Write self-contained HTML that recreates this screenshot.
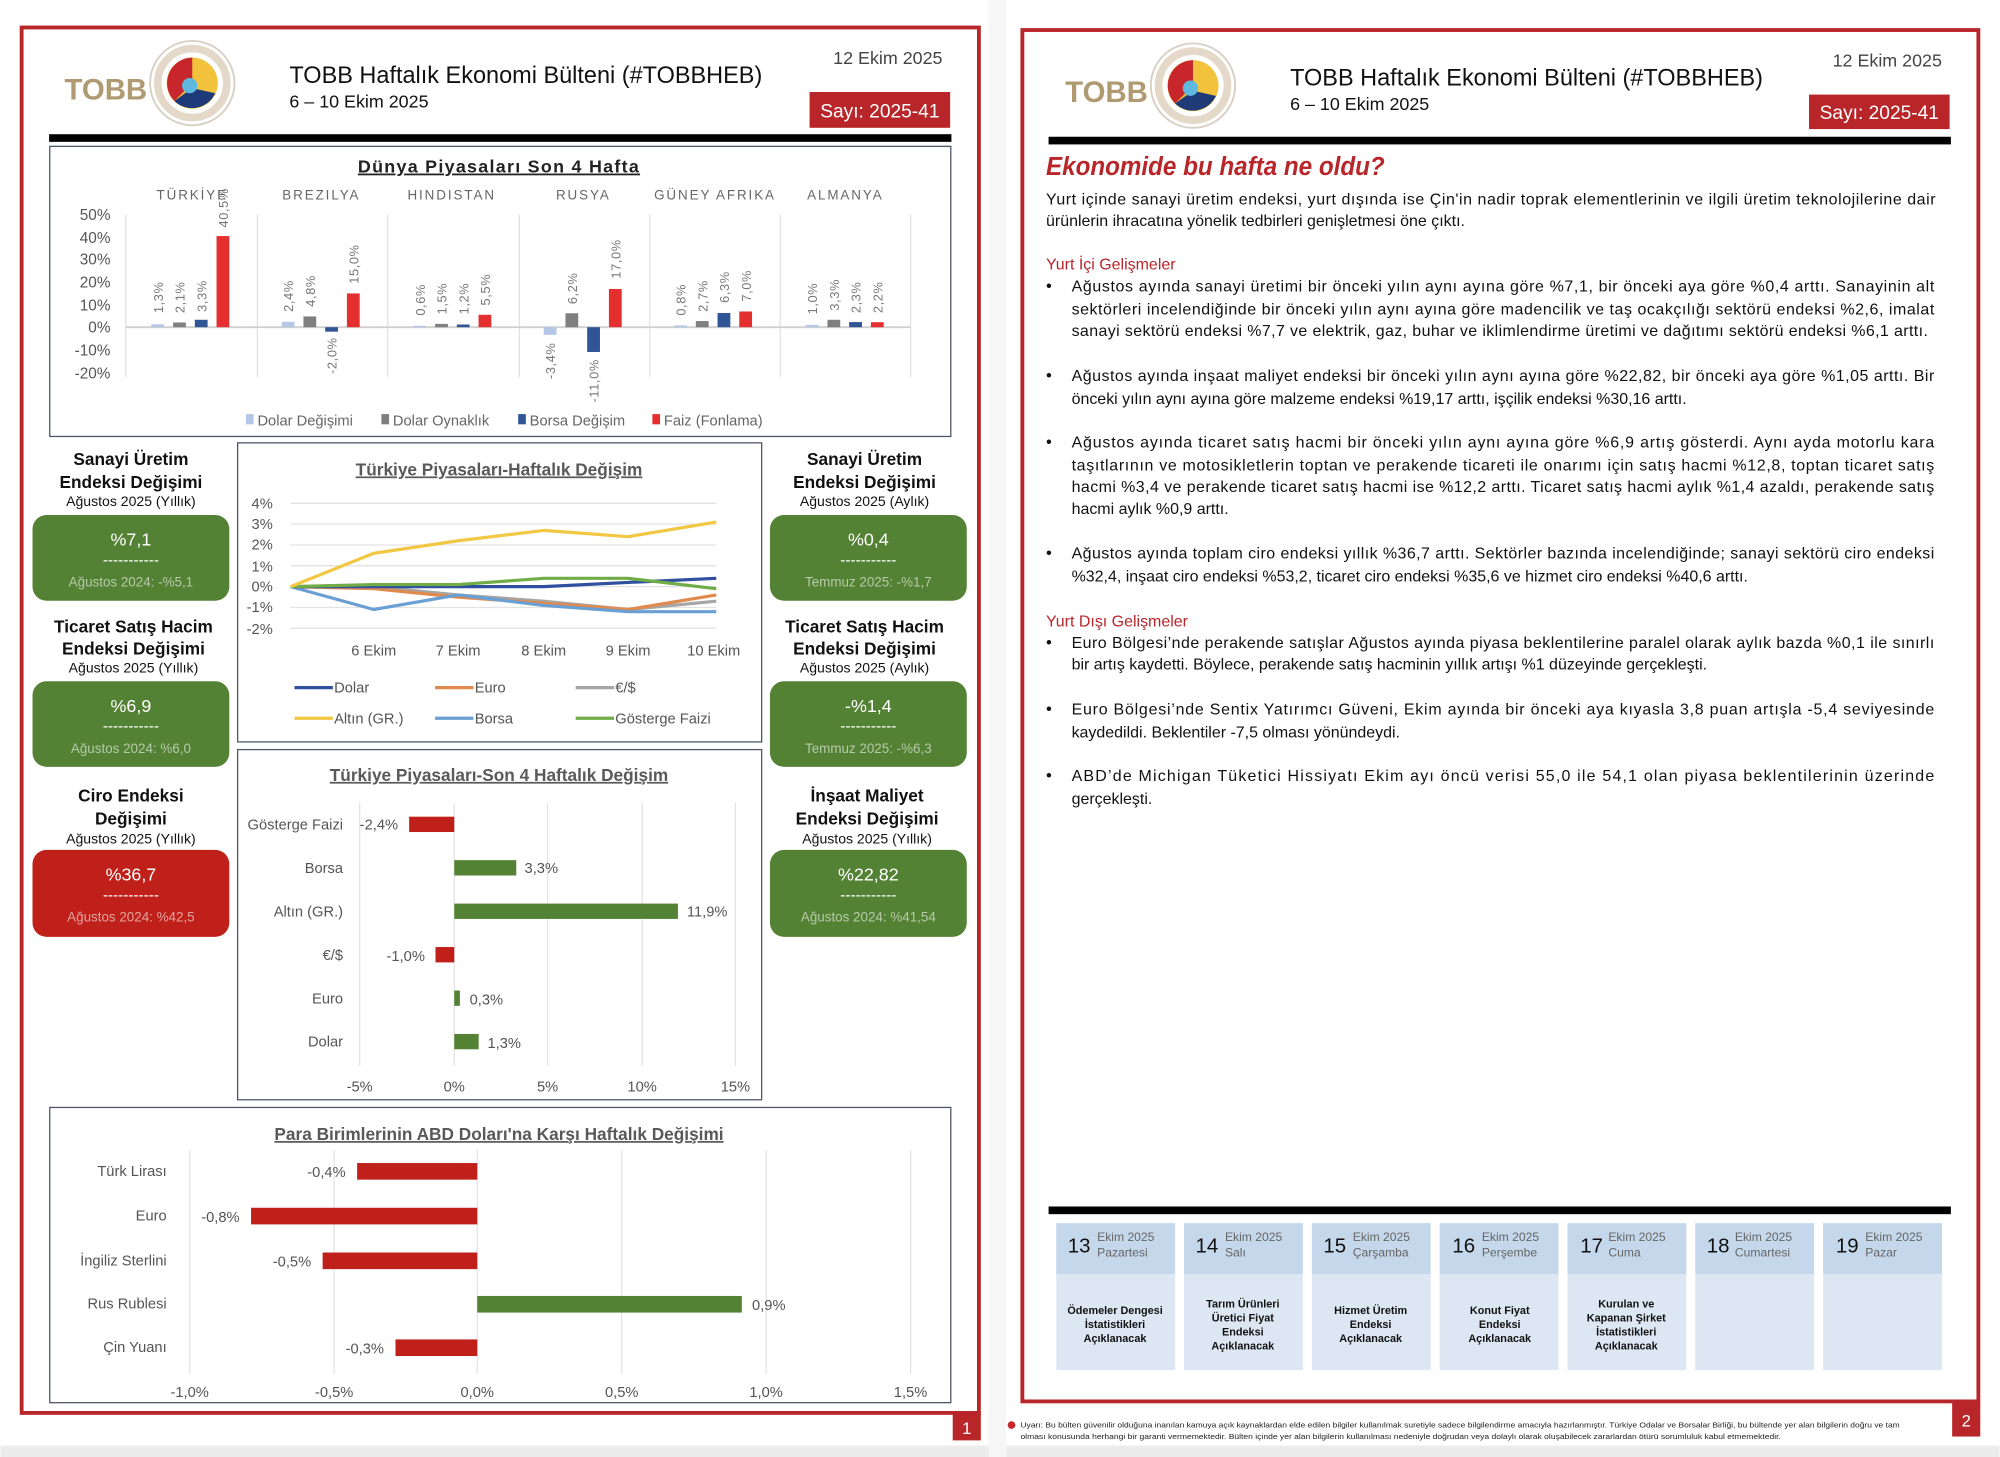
<!DOCTYPE html>
<html><head><meta charset="utf-8"><style>
html,body{margin:0;padding:0;background:#fff;width:2000px;height:1457px;overflow:hidden}
svg{display:block}
text{font-family:"Liberation Sans","DejaVu Sans",sans-serif}
</style></head><body>
<svg width="2000" height="1457" viewBox="0 0 1564 1140" xmlns="http://www.w3.org/2000/svg">
<rect x="0" y="0" width="1564" height="1140" fill="#fff"/>
<rect x="0" y="1131" width="1564" height="9" fill="#ececec"/>
<rect x="773" y="0" width="14" height="1140" fill="#f6f6f6"/>

<!-- PAGE 1 -->
<rect x="16.5" y="21.5" width="749" height="1084" fill="#fff" stroke="#b8262a" stroke-width="3"/>
<rect x="745" y="1105" width="22" height="22" fill="#b8262a"/><text x="756" y="1122" font-size="13" fill="#fff" text-anchor="middle">1</text>
<text x="50" y="78" font-size="23" font-weight="bold" fill="#b09a72">TOBB</text>
<g transform="translate(150,65)">
<circle r="33" fill="#fff" stroke="#d8d0c4" stroke-width="1.5"/>
<circle r="27" fill="none" stroke="#e4d8c8" stroke-width="6"/>
<circle r="20" fill="#f2c23c"/>
<path d="M0,-20 A20,20 0 0 0 -14,14 L0,0 Z" fill="#c6262c"/>
<path d="M-14,14 A20,20 0 0 0 18,8 L0,4 Z" fill="#1f3a78"/>
<circle cx="-2" cy="2" r="6" fill="#5fb8e0"/>
</g>
<text x="226" y="65" font-size="19" fill="#111" textLength="370" lengthAdjust="spacingAndGlyphs">TOBB Haftalık Ekonomi Bülteni (#TOBBHEB)</text>
<text x="226" y="84" font-size="14" fill="#111">6 – 10 Ekim 2025</text>
<text x="737" y="50" font-size="14" fill="#444" text-anchor="end">12 Ekim 2025</text>
<rect x="633" y="72" width="110" height="28" fill="#b8262a"/>
<text x="688" y="92" font-size="15" fill="#fff" text-anchor="middle">Sayı: 2025-41</text>
<rect x="38" y="105" width="706" height="6" fill="#000"/>

<!-- Chart 1 -->
<rect x="38.5" y="114.5" width="705" height="227" fill="#fff" stroke="#4a5568" stroke-width="1"/>
<text x="390" y="135" font-size="14" font-weight="bold" fill="#222" text-anchor="middle" letter-spacing="1" text-decoration="underline">Dünya Piyasaları Son 4 Hafta</text>
<g font-size="10.5" fill="#666" text-anchor="middle" letter-spacing="1.5">
<text x="150" y="156">TÜRKİYE</text><text x="251" y="156">BREZILYA</text><text x="353" y="156">HINDISTAN</text><text x="456" y="156">RUSYA</text><text x="559" y="156">GÜNEY AFRIKA</text><text x="661" y="156">ALMANYA</text>
</g>
<g font-size="12" fill="#555" text-anchor="end">
<text x="86" y="172">50%</text><text x="86" y="190">40%</text><text x="86" y="207">30%</text><text x="86" y="225">20%</text><text x="86" y="243">10%</text><text x="86" y="260">0%</text><text x="86" y="278">-10%</text><text x="86" y="296">-20%</text>
</g>
<g stroke="#e0e0e0" stroke-width="1">
<line x1="98" y1="168" x2="98" y2="295"/><line x1="201" y1="168" x2="201" y2="295"/><line x1="303" y1="168" x2="303" y2="295"/><line x1="406" y1="168" x2="406" y2="295"/><line x1="508" y1="168" x2="508" y2="295"/><line x1="610" y1="168" x2="610" y2="295"/><line x1="712" y1="168" x2="712" y2="295"/>
</g>
<line x1="98" y1="256" x2="712" y2="256" stroke="#d0d0d0" stroke-width="1.5"/>
<g>
<rect x="118" y="253.7" width="10" height="2.3" fill="#b4c7e7"/><rect x="135" y="252.3" width="10" height="3.7" fill="#7f7f7f"/><rect x="152" y="250.2" width="10" height="5.8" fill="#2f5597"/><rect x="169" y="184.7" width="10" height="71.3" fill="#e52f2f"/>
<rect x="220" y="251.8" width="10" height="4.2" fill="#b4c7e7"/><rect x="237" y="247.6" width="10" height="8.4" fill="#7f7f7f"/><rect x="254" y="256" width="10" height="3.5" fill="#2f5597"/><rect x="271" y="229.6" width="10" height="26.4" fill="#e52f2f"/>
<rect x="323" y="254.9" width="10" height="1.1" fill="#b4c7e7"/><rect x="340" y="253.4" width="10" height="2.6" fill="#7f7f7f"/><rect x="357" y="253.9" width="10" height="2.1" fill="#2f5597"/><rect x="374" y="246.3" width="10" height="9.7" fill="#e52f2f"/>
<rect x="425" y="256" width="10" height="6" fill="#b4c7e7"/><rect x="442" y="245.1" width="10" height="10.9" fill="#7f7f7f"/><rect x="459" y="256" width="10" height="19.4" fill="#2f5597"/><rect x="476" y="226.1" width="10" height="29.9" fill="#e52f2f"/>
<rect x="527" y="254.6" width="10" height="1.4" fill="#b4c7e7"/><rect x="544" y="251.2" width="10" height="4.8" fill="#7f7f7f"/><rect x="561" y="244.9" width="10" height="11.1" fill="#2f5597"/><rect x="578" y="243.7" width="10" height="12.3" fill="#e52f2f"/>
<rect x="630" y="254.2" width="10" height="1.8" fill="#b4c7e7"/><rect x="647" y="250.2" width="10" height="5.8" fill="#7f7f7f"/><rect x="664" y="252" width="10" height="4" fill="#2f5597"/><rect x="681" y="252.1" width="10" height="3.9" fill="#e52f2f"/>
</g>
<g font-size="10" fill="#777" letter-spacing="0.5">
<text transform="translate(127,245) rotate(-90)">1,3%</text>
<text transform="translate(144,245) rotate(-90)">2,1%</text>
<text transform="translate(161,244) rotate(-90)">3,3%</text>
<text transform="translate(178,178) rotate(-90)">40,5%</text>
<text transform="translate(229,244) rotate(-90)">2,4%</text>
<text transform="translate(246,240) rotate(-90)">4,8%</text>
<text transform="translate(263,264) rotate(-90)" text-anchor="end">-2,0%</text>
<text transform="translate(280,222) rotate(-90)">15,0%</text>
<text transform="translate(332,247) rotate(-90)">0,6%</text>
<text transform="translate(349,246) rotate(-90)">1,5%</text>
<text transform="translate(366,246) rotate(-90)">1,2%</text>
<text transform="translate(383,239) rotate(-90)">5,5%</text>
<text transform="translate(434,268) rotate(-90)" text-anchor="end">-3,4%</text>
<text transform="translate(451,238) rotate(-90)">6,2%</text>
<text transform="translate(468,281) rotate(-90)" text-anchor="end">-11,0%</text>
<text transform="translate(485,218) rotate(-90)">17,0%</text>
<text transform="translate(536,247) rotate(-90)">0,8%</text>
<text transform="translate(553,244) rotate(-90)">2,7%</text>
<text transform="translate(570,237) rotate(-90)">6,3%</text>
<text transform="translate(587,236) rotate(-90)">7,0%</text>
<text transform="translate(639,246) rotate(-90)">1,0%</text>
<text transform="translate(656,243) rotate(-90)">3,3%</text>
<text transform="translate(673,245) rotate(-90)">2,3%</text>
<text transform="translate(690,245) rotate(-90)">2,2%</text>
</g>
<g font-size="11.5" fill="#666">
<rect x="192" y="324" width="6" height="8" fill="#b4c7e7"/><text x="201" y="333">Dolar Değişimi</text>
<rect x="298" y="324" width="6" height="8" fill="#7f7f7f"/><text x="307" y="333">Dolar Oynaklık</text>
<rect x="405" y="324" width="6" height="8" fill="#2f5597"/><text x="414" y="333">Borsa Değişim</text>
<rect x="510" y="324" width="6" height="8" fill="#e52f2f"/><text x="519" y="333">Faiz (Fonlama)</text>
</g>

<!-- KPI -->
<g text-anchor="middle" fill="#111">
<text x="102" y="364" font-size="13.5" font-weight="bold">Sanayi Üretim</text>
<text x="102" y="382" font-size="13.5" font-weight="bold">Endeksi Değişimi</text>
<text x="102" y="396" font-size="11">Ağustos 2025 (Yıllık)</text>
<text x="104" y="495" font-size="13.5" font-weight="bold">Ticaret Satış Hacim</text>
<text x="104" y="512" font-size="13.5" font-weight="bold">Endeksi Değişimi</text>
<text x="104" y="526" font-size="11">Ağustos 2025 (Yıllık)</text>
<text x="102" y="627" font-size="13.5" font-weight="bold">Ciro Endeksi</text>
<text x="102" y="645" font-size="13.5" font-weight="bold">Değişimi</text>
<text x="102" y="660" font-size="11">Ağustos 2025 (Yıllık)</text>
<text x="676" y="364" font-size="13.5" font-weight="bold">Sanayi Üretim</text>
<text x="676" y="382" font-size="13.5" font-weight="bold">Endeksi Değişimi</text>
<text x="676" y="396" font-size="11">Ağustos 2025 (Aylık)</text>
<text x="676" y="495" font-size="13.5" font-weight="bold">Ticaret Satış Hacim</text>
<text x="676" y="512" font-size="13.5" font-weight="bold">Endeksi Değişimi</text>
<text x="676" y="526" font-size="11">Ağustos 2025 (Aylık)</text>
<text x="678" y="627" font-size="13.5" font-weight="bold">İnşaat Maliyet</text>
<text x="678" y="645" font-size="13.5" font-weight="bold">Endeksi Değişimi</text>
<text x="678" y="660" font-size="11">Ağustos 2025 (Yıllık)</text>
</g>
<rect x="25" y="403" width="154" height="67" rx="11" fill="#548235"/>
<rect x="25" y="533" width="154" height="67" rx="11" fill="#548235"/>
<rect x="25" y="665" width="154" height="68" rx="11" fill="#bf2019"/>
<rect x="602" y="403" width="154" height="67" rx="11" fill="#548235"/>
<rect x="602" y="533" width="154" height="67" rx="11" fill="#548235"/>
<rect x="602" y="665" width="154" height="68" rx="11" fill="#548235"/>
<g text-anchor="middle">
<text x="102" y="427" font-size="14" fill="#fff">%7,1</text><text x="102" y="442" font-size="12" fill="#fff">-----------</text><text x="102" y="459" font-size="10.5" fill="#b7c9a8">Ağustos 2024: -%5,1</text>
<text x="102" y="557" font-size="14" fill="#fff">%6,9</text><text x="102" y="572" font-size="12" fill="#fff">-----------</text><text x="102" y="589" font-size="10.5" fill="#b7c9a8">Ağustos 2024: %6,0</text>
<text x="102" y="689" font-size="14" fill="#fff">%36,7</text><text x="102" y="704" font-size="12" fill="#fff">-----------</text><text x="102" y="721" font-size="10.5" fill="#e5a3a0">Ağustos 2024: %42,5</text>
<text x="679" y="427" font-size="14" fill="#fff">%0,4</text><text x="679" y="442" font-size="12" fill="#fff">-----------</text><text x="679" y="459" font-size="10.5" fill="#b7c9a8">Temmuz 2025: -%1,7</text>
<text x="679" y="557" font-size="14" fill="#fff">-%1,4</text><text x="679" y="572" font-size="12" fill="#fff">-----------</text><text x="679" y="589" font-size="10.5" fill="#b7c9a8">Temmuz 2025: -%6,3</text>
<text x="679" y="689" font-size="14" fill="#fff">%22,82</text><text x="679" y="704" font-size="12" fill="#fff">-----------</text><text x="679" y="721" font-size="10.5" fill="#b7c9a8">Ağustos 2024: %41,54</text>
</g>

<!-- Line chart -->
<rect x="185.5" y="346.5" width="410" height="234" fill="#fff" stroke="#4a5568"/>
<text x="390" y="372" font-size="13.5" font-weight="bold" fill="#595959" text-anchor="middle" text-decoration="underline">Türkiye Piyasaları-Haftalık Değişim</text>
<g font-size="11.5" fill="#555" text-anchor="end">
<text x="213" y="398">4%</text><text x="213" y="414">3%</text><text x="213" y="430">2%</text><text x="213" y="447">1%</text><text x="213" y="463">0%</text><text x="213" y="479">-1%</text><text x="213" y="496">-2%</text>
</g>
<g stroke="#e3e3e3" stroke-width="1">
<line x1="227" y1="393.8" x2="560" y2="393.8"/><line x1="227" y1="410.1" x2="560" y2="410.1"/><line x1="227" y1="426.4" x2="560" y2="426.4"/><line x1="227" y1="442.7" x2="560" y2="442.7"/><line x1="227" y1="459" x2="560" y2="459"/><line x1="227" y1="475.3" x2="560" y2="475.3"/><line x1="227" y1="491.6" x2="560" y2="491.6"/>
</g>
<g fill="none" stroke-width="2.5" stroke-linejoin="round">
<polyline stroke="#a6a6a6" points="227,459 292,459 358,465.5 425,470.4 491,476.9 560,470.4"/>
<polyline stroke="#e08a4e" points="227,459 292,460.6 358,467.2 425,472 491,476.9 560,465.5"/>
<polyline stroke="#6a9fd4" points="227,459 292,476.9 358,465.5 425,473.7 491,478.6 560,478.6"/>
<polyline stroke="#2f4f9f" points="227,459 292,459 358,459 425,459 491,455.7 560,452.5"/>
<polyline stroke="#70ad47" points="227,459 292,457.4 358,457.4 425,452.5 491,452.5 560,460.6"/>
<polyline stroke="#f2c744" points="227,459 292,432.9 358,423.1 425,415 491,419.9 560,408.5"/>
</g>
<g font-size="11.5" fill="#555" text-anchor="middle">
<text x="292" y="513">6 Ekim</text><text x="358" y="513">7 Ekim</text><text x="425" y="513">8 Ekim</text><text x="491" y="513">9 Ekim</text><text x="558" y="513">10 Ekim</text>
</g>
<g font-size="11.5" fill="#555">
<line x1="230" y1="538" x2="260" y2="538" stroke="#2f4f9f" stroke-width="2.5"/><text x="261" y="542">Dolar</text>
<line x1="340" y1="538" x2="370" y2="538" stroke="#e08a4e" stroke-width="2.5"/><text x="371" y="542">Euro</text>
<line x1="450" y1="538" x2="480" y2="538" stroke="#a6a6a6" stroke-width="2.5"/><text x="481" y="542">€/$</text>
<line x1="230" y1="562" x2="260" y2="562" stroke="#f2c744" stroke-width="2.5"/><text x="261" y="566">Altın (GR.)</text>
<line x1="340" y1="562" x2="370" y2="562" stroke="#6a9fd4" stroke-width="2.5"/><text x="371" y="566">Borsa</text>
<line x1="450" y1="562" x2="480" y2="562" stroke="#70ad47" stroke-width="2.5"/><text x="481" y="566">Gösterge Faizi</text>
</g>

<!-- Bar chart 2 -->
<rect x="185.5" y="586.5" width="410" height="274" fill="#fff" stroke="#4a5568"/>
<text x="390" y="611" font-size="13.5" font-weight="bold" fill="#595959" text-anchor="middle" text-decoration="underline">Türkiye Piyasaları-Son 4 Haftalık Değişim</text>
<g stroke="#e3e3e3"><line x1="281" y1="628" x2="281" y2="834"/><line x1="355" y1="628" x2="355" y2="834"/><line x1="428" y1="628" x2="428" y2="834"/><line x1="502" y1="628" x2="502" y2="834"/><line x1="575" y1="628" x2="575" y2="834"/></g>
<g font-size="11.5" fill="#555" text-anchor="end">
<text x="268" y="649">Gösterge Faizi</text><text x="268" y="683">Borsa</text><text x="268" y="717">Altın (GR.)</text><text x="268" y="751">€/$</text><text x="268" y="785">Euro</text><text x="268" y="819">Dolar</text>
</g>
<rect x="319.7" y="639" width="35.3" height="12" fill="#bf2019"/>
<rect x="355" y="673" width="48.5" height="12" fill="#548235"/>
<rect x="355" y="707" width="175" height="12" fill="#548235"/>
<rect x="340.3" y="741" width="14.7" height="12" fill="#bf2019"/>
<rect x="355" y="775" width="4.4" height="12" fill="#548235"/>
<rect x="355" y="809" width="19.1" height="12" fill="#548235"/>
<g font-size="11.5" fill="#555">
<text x="281" y="649">-2,4%</text><text x="410" y="683">3,3%</text><text x="537" y="717">11,9%</text><text x="302" y="752">-1,0%</text><text x="367" y="786">0,3%</text><text x="381" y="820">1,3%</text>
</g>
<g font-size="11.5" fill="#555" text-anchor="middle">
<text x="281" y="854">-5%</text><text x="355" y="854">0%</text><text x="428" y="854">5%</text><text x="502" y="854">10%</text><text x="575" y="854">15%</text>
</g>

<!-- Bar chart 3 -->
<rect x="38.5" y="866.5" width="705" height="231" fill="#fff" stroke="#4a5568"/>
<text x="390" y="892" font-size="13.5" font-weight="bold" fill="#595959" text-anchor="middle" text-decoration="underline">Para Birimlerinin ABD Doları'na Karşı Haftalık Değişimi</text>
<g stroke="#e3e3e3"><line x1="148" y1="900" x2="148" y2="1075"/><line x1="261" y1="900" x2="261" y2="1075"/><line x1="373" y1="900" x2="373" y2="1075"/><line x1="486" y1="900" x2="486" y2="1075"/><line x1="599" y1="900" x2="599" y2="1075"/><line x1="712" y1="900" x2="712" y2="1075"/></g>
<g font-size="11.5" fill="#555" text-anchor="end">
<text x="130" y="920">Türk Lirası</text><text x="130" y="955">Euro</text><text x="130" y="990">İngiliz Sterlini</text><text x="130" y="1024">Rus Rublesi</text><text x="130" y="1058">Çin Yuanı</text>
</g>
<rect x="279" y="910" width="94" height="13" fill="#bf2019"/>
<rect x="196" y="945" width="177" height="13" fill="#bf2019"/>
<rect x="252" y="980" width="121" height="13" fill="#bf2019"/>
<rect x="373" y="1014" width="207" height="13" fill="#548235"/>
<rect x="309" y="1048" width="64" height="13" fill="#bf2019"/>
<g font-size="11.5" fill="#555">
<text x="240" y="921">-0,4%</text><text x="157" y="956">-0,8%</text><text x="213" y="991">-0,5%</text><text x="588" y="1025">0,9%</text><text x="270" y="1059">-0,3%</text>
</g>
<g font-size="11.5" fill="#555" text-anchor="middle">
<text x="148" y="1093">-1,0%</text><text x="261" y="1093">-0,5%</text><text x="373" y="1093">0,0%</text><text x="486" y="1093">0,5%</text><text x="599" y="1093">1,0%</text><text x="712" y="1093">1,5%</text>
</g>

<!-- PAGE 2 -->
<rect x="799.5" y="23.5" width="748" height="1073" fill="#fff" stroke="#b8262a" stroke-width="3"/>
<rect x="1527" y="1097" width="22" height="27" fill="#b8262a"/><text x="1538" y="1116" font-size="13" fill="#fff" text-anchor="middle">2</text>
<text x="833" y="80" font-size="23" font-weight="bold" fill="#b09a72">TOBB</text>
<g transform="translate(933,67)">
<circle r="33" fill="#fff" stroke="#d8d0c4" stroke-width="1.5"/>
<circle r="27" fill="none" stroke="#e4d8c8" stroke-width="6"/>
<circle r="20" fill="#f2c23c"/>
<path d="M0,-20 A20,20 0 0 0 -14,14 L0,0 Z" fill="#c6262c"/>
<path d="M-14,14 A20,20 0 0 0 18,8 L0,4 Z" fill="#1f3a78"/>
<circle cx="-2" cy="2" r="6" fill="#5fb8e0"/>
</g>
<text x="1009" y="67" font-size="19" fill="#111" textLength="370" lengthAdjust="spacingAndGlyphs">TOBB Haftalık Ekonomi Bülteni (#TOBBHEB)</text>
<text x="1009" y="86" font-size="14" fill="#111">6 – 10 Ekim 2025</text>
<text x="1519" y="52" font-size="14" fill="#444" text-anchor="end">12 Ekim 2025</text>
<rect x="1415" y="74" width="110" height="27" fill="#b8262a"/>
<text x="1470" y="93" font-size="15" fill="#fff" text-anchor="middle">Sayı: 2025-41</text>
<rect x="820" y="107" width="706" height="6" fill="#000"/>

<text x="818" y="137" font-size="20" font-weight="bold" font-style="italic" fill="#b8262a" textLength="265" lengthAdjust="spacingAndGlyphs">Ekonomide bu hafta ne oldu?</text>
<g font-size="12.5" fill="#111">
<text x="818" y="160" textLength="696" lengthAdjust="spacing">Yurt içinde sanayi üretim endeksi, yurt dışında ise Çin'in nadir toprak elementlerinin ve ilgili üretim teknolojilerine dair</text>
<text x="818" y="177">ürünlerin ihracatına yönelik tedbirleri genişletmesi öne çıktı.</text>
<text x="818" y="211" fill="#b8262a">Yurt İçi Gelişmeler</text>
<g font-size="13"><text x="818" y="228">•</text><text x="818" y="298">•</text><text x="818" y="350">•</text><text x="818" y="437">•</text><text x="818" y="507">•</text><text x="818" y="559">•</text><text x="818" y="611">•</text></g>
<text x="838" y="228" textLength="675" lengthAdjust="spacing">Ağustos ayında sanayi üretimi bir önceki yılın aynı ayına göre %7,1, bir önceki aya göre %0,4 arttı. Sanayinin alt</text>
<text x="838" y="246" textLength="675" lengthAdjust="spacing">sektörleri incelendiğinde bir önceki yılın aynı ayına göre madencilik ve taş ocakçılığı sektörü endeksi %2,6, imalat</text>
<text x="838" y="263" textLength="670" lengthAdjust="spacing">sanayi sektörü endeksi %7,7 ve elektrik, gaz, buhar ve iklimlendirme üretimi ve dağıtımı sektörü endeksi %6,1 arttı.</text>
<text x="838" y="298" textLength="675" lengthAdjust="spacing">Ağustos ayında inşaat maliyet endeksi bir önceki yılın aynı ayına göre %22,82, bir önceki aya göre %1,05 arttı. Bir</text>
<text x="838" y="316">önceki yılın aynı ayına göre malzeme endeksi %19,17 arttı, işçilik endeksi %30,16 arttı.</text>
<text x="838" y="350" textLength="675" lengthAdjust="spacing">Ağustos ayında ticaret satış hacmi bir önceki yılın aynı ayına göre %6,9 artış gösterdi. Aynı ayda motorlu kara</text>
<text x="838" y="368" textLength="675" lengthAdjust="spacing">taşıtlarının ve motosikletlerin toptan ve perakende ticareti ile onarımı için satış hacmi %12,8, toptan ticaret satış</text>
<text x="838" y="385" textLength="675" lengthAdjust="spacing">hacmi %3,4 ve perakende ticaret satış hacmi ise %12,2 arttı. Ticaret satış hacmi aylık %1,4 azaldı, perakende satış</text>
<text x="838" y="402">hacmi aylık %0,9 arttı.</text>
<text x="838" y="437" textLength="675" lengthAdjust="spacing">Ağustos ayında toplam ciro endeksi yıllık %36,7 arttı. Sektörler bazında incelendiğinde; sanayi sektörü ciro endeksi</text>
<text x="838" y="455">%32,4, inşaat ciro endeksi %53,2, ticaret ciro endeksi %35,6 ve hizmet ciro endeksi %40,6 arttı.</text>
<text x="818" y="490" fill="#b8262a">Yurt Dışı Gelişmeler</text>
<text x="838" y="507" textLength="675" lengthAdjust="spacing">Euro Bölgesi’nde perakende satışlar Ağustos ayında piyasa beklentilerine paralel olarak aylık bazda %0,1 ile sınırlı</text>
<text x="838" y="524">bir artış kaydetti. Böylece, perakende satış hacminin yıllık artışı %1 düzeyinde gerçekleşti.</text>
<text x="838" y="559" textLength="675" lengthAdjust="spacing">Euro Bölgesi’nde Sentix Yatırımcı Güveni, Ekim ayında bir önceki aya kıyasla 3,8 puan artışla -5,4 seviyesinde</text>
<text x="838" y="577">kaydedildi. Beklentiler -7,5 olması yönündeydi.</text>
<text x="838" y="611" textLength="675" lengthAdjust="spacing">ABD’de Michigan Tüketici Hissiyatı Ekim ayı öncü verisi 55,0 ile 54,1 olan piyasa beklentilerinin üzerinde</text>
<text x="838" y="629">gerçekleşti.</text>
</g>

<!-- calendar -->
<rect x="820" y="944" width="706" height="6" fill="#000"/>
<g>
<rect x="826" y="957" width="93" height="40" fill="#c5d7ea"/><rect x="826" y="997" width="93" height="75" fill="#dde7f3"/>
<rect x="926" y="957" width="93" height="40" fill="#c5d7ea"/><rect x="926" y="997" width="93" height="75" fill="#dde7f3"/>
<rect x="1026" y="957" width="93" height="40" fill="#c5d7ea"/><rect x="1026" y="997" width="93" height="75" fill="#dde7f3"/>
<rect x="1126" y="957" width="93" height="40" fill="#c5d7ea"/><rect x="1126" y="997" width="93" height="75" fill="#dde7f3"/>
<rect x="1226" y="957" width="93" height="40" fill="#c5d7ea"/><rect x="1226" y="997" width="93" height="75" fill="#dde7f3"/>
<rect x="1326" y="957" width="93" height="40" fill="#c5d7ea"/><rect x="1326" y="997" width="93" height="75" fill="#dde7f3"/>
<rect x="1426" y="957" width="93" height="40" fill="#c5d7ea"/><rect x="1426" y="997" width="93" height="75" fill="#dde7f3"/>
</g>
<g font-size="16" fill="#111">
<text x="835" y="980">13</text><text x="935" y="980">14</text><text x="1035" y="980">15</text><text x="1136" y="980">16</text><text x="1236" y="980">17</text><text x="1335" y="980">18</text><text x="1436" y="980">19</text>
</g>
<g font-size="9.5" fill="#666">
<text x="858" y="971">Ekim 2025</text><text x="858" y="983">Pazartesi</text>
<text x="958" y="971">Ekim 2025</text><text x="958" y="983">Salı</text>
<text x="1058" y="971">Ekim 2025</text><text x="1058" y="983">Çarşamba</text>
<text x="1159" y="971">Ekim 2025</text><text x="1159" y="983">Perşembe</text>
<text x="1258" y="971">Ekim 2025</text><text x="1258" y="983">Cuma</text>
<text x="1357" y="971">Ekim 2025</text><text x="1357" y="983">Cumartesi</text>
<text x="1459" y="971">Ekim 2025</text><text x="1459" y="983">Pazar</text>
</g>
<g font-size="8.5" font-weight="bold" fill="#111" text-anchor="middle">
<text x="872" y="1028">Ödemeler Dengesi</text><text x="872" y="1039">İstatistikleri</text><text x="872" y="1050">Açıklanacak</text>
<text x="972" y="1023">Tarım Ürünleri</text><text x="972" y="1034">Üretici Fiyat</text><text x="972" y="1045">Endeksi</text><text x="972" y="1056">Açıklanacak</text>
<text x="1072" y="1028">Hizmet Üretim</text><text x="1072" y="1039">Endeksi</text><text x="1072" y="1050">Açıklanacak</text>
<text x="1173" y="1028">Konut Fiyat</text><text x="1173" y="1039">Endeksi</text><text x="1173" y="1050">Açıklanacak</text>
<text x="1272" y="1023">Kurulan ve</text><text x="1272" y="1034">Kapanan Şirket</text><text x="1272" y="1045">İstatistikleri</text><text x="1272" y="1056">Açıklanacak</text>
</g>
<circle cx="791" cy="1115" r="3" fill="#c6262c"/>
<g font-size="6" fill="#222">
<text x="798" y="1117" textLength="688" lengthAdjust="spacingAndGlyphs">Uyarı: Bu bülten güvenilir olduğuna inanılan kamuya açık kaynaklardan elde edilen bilgiler kullanılmak suretiyle sadece bilgilendirme amacıyla hazırlanmıştır. Türkiye Odalar ve Borsalar Birliği, bu bültende yer alan bilgilerin doğru ve tam</text>
<text x="798" y="1126" textLength="595" lengthAdjust="spacingAndGlyphs">olması konusunda herhangi bir garanti vermemektedir. Bülten içinde yer alan bilgilerin kullanılması nedeniyle doğrudan veya dolaylı olarak oluşabilecek zararlardan ötürü sorumluluk kabul etmemektedir.</text>
</g>
</svg>
</body></html>
